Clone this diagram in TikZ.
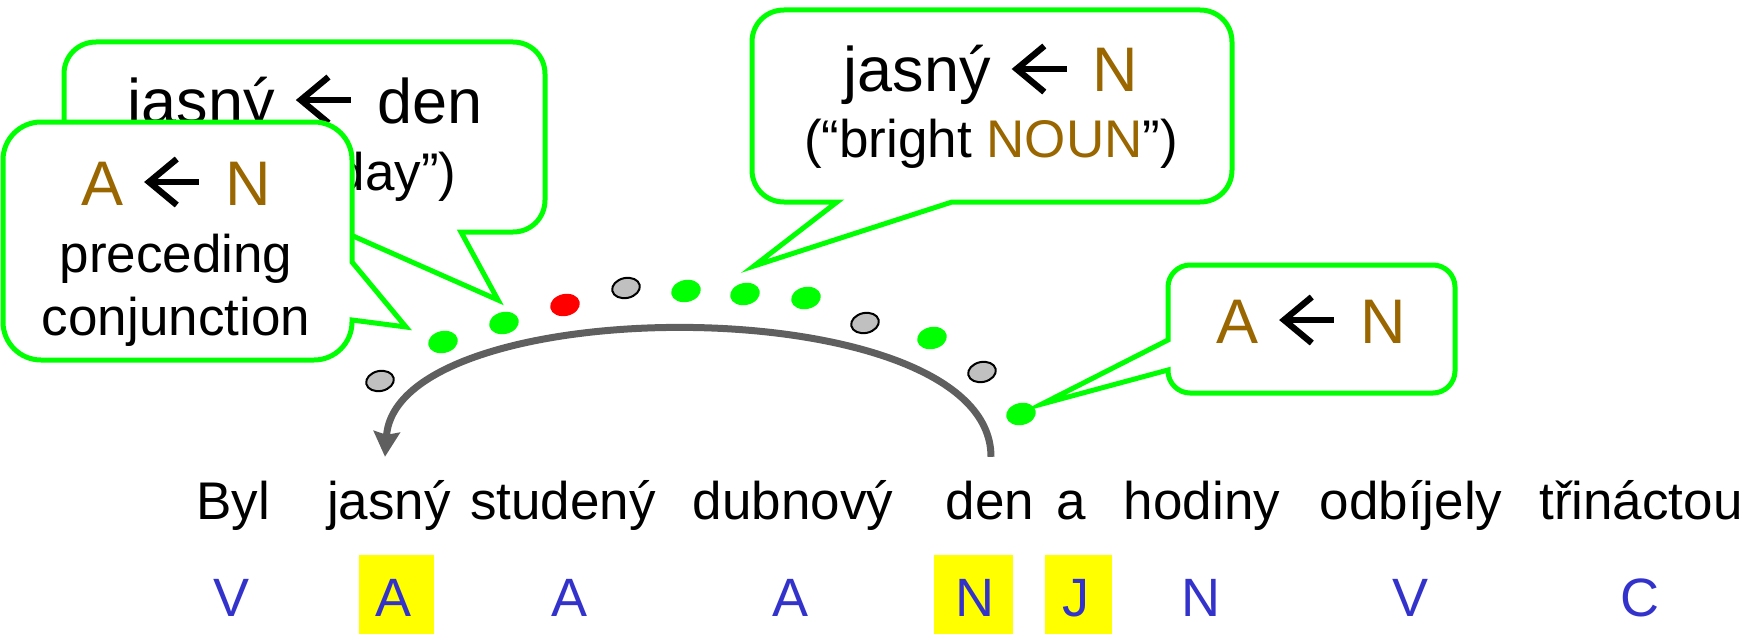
\documentclass[tikz,border=0pt]{standalone}
\usepackage{fontspec}
\setmainfont{Liberation Sans}
\usetikzlibrary{arrows.meta,shapes.geometric}

\definecolor{cgreen}{HTML}{00FF00}
\definecolor{posbrown}{HTML}{996600}
\definecolor{tagblue}{HTML}{3333CC}
\definecolor{arcgray}{HTML}{5F5F5F}
\definecolor{dotgray}{HTML}{C0C0C0}
\definecolor{dotred}{HTML}{FF0000}
\definecolor{hlyellow}{HTML}{FFFF00}

\newcommand{\pos}[1]{\textcolor{posbrown}{#1}}
% a wide, thin left arrow sized to the current font
\newcommand{\larr}{\kern0.36em\tikz[baseline=0pt]{%
  \draw[black, line width=0.1em, line cap=butt, line join=miter]
    (0.47em,0.73em) -- (0.03em,0.365em) -- (0.47em,0em);
  \draw[black, line width=0.1em, line cap=butt] (0.06em,0.365em) -- (0.83em,0.365em);}%
  \kern0.36em}

\begin{document}
\begin{tikzpicture}[x=1pt,y=-1pt,
  callout/.style={draw=cgreen, line width=5pt, fill=white},
  bigtxt/.style={anchor=base, inner sep=0pt, font=\fontsize{63}{70}\selectfont},
  midtxt/.style={anchor=base, inner sep=0pt, font=\fontsize{53}{60}\selectfont},
  word/.style={anchor=base, inner sep=0pt, text height=40pt, text depth=12pt,
    font=\fontsize{53}{60}\selectfont},
  tag/.style={anchor=base, inner sep=0pt, text=tagblue, font=\fontsize{54}{60}\selectfont},
  hlbox/.style={fill=hlyellow},
  dotbase/.style={ellipse, inner sep=0pt, rotate=12},
  dotg/.style={dotbase, fill=cgreen, minimum width=30pt, minimum height=22pt},
  dotr/.style={dotbase, fill=dotred, minimum width=30pt, minimum height=22pt},
  dotn/.style={dotbase, fill=dotgray, draw=black, line width=2pt,
    minimum width=28pt, minimum height=20pt},
  arcline/.style={draw=arcgray, line width=7pt,
    -{Stealth[length=25pt, width=26pt, inset=3pt]}},
]
\useasboundingbox (0,0) rectangle (1759,634);

% ---- callout: jasny <- den (behind) ----
\path[callout] (461,232) -- (513,232) .. controls (531,232) and (545,218) .. (545,200)
  -- (545,74) .. controls (545,56) and (531,42) .. (513,42)
  -- (96,42) .. controls (78,42) and (64,56) .. (64,74)
  -- (64,200) .. controls (64,218) and (78,232) .. (96,232)
  -- (344,232) -- (498,300) -- cycle;
\node[bigtxt] (c1a) at (305,123) {jasný\larr den};
\node[midtxt] (c1b) at (305,190) {(“bright day”)};

% ---- callout: A <- N, preceding conjunction (front) ----
\path[callout] (352,320) -- (352,322) .. controls (352,343) and (335,360) .. (314,360)
  -- (41,360) .. controls (20,360) and (3,343) .. (3,322)
  -- (3,160) .. controls (3,139) and (20,122) .. (41,122)
  -- (314,122) .. controls (335,122) and (352,139) .. (352,160)
  -- (352,262) -- (406,327) -- cycle;
\node[bigtxt] (c2a) at (176,205) {\pos{A}\larr\pos{N}};
\node[midtxt] (c2b) at (176,272) {preceding};
\node[midtxt] (c2c) at (176,335) {conjunction};

% ---- callout: jasny <- N ----
\path[callout] (952,202) -- (1200,202) .. controls (1218,202) and (1232,188) .. (1232,170)
  -- (1232,42) .. controls (1232,24) and (1218,10) .. (1200,10)
  -- (784,10) .. controls (766,10) and (752,24) .. (752,42)
  -- (752,170) .. controls (752,188) and (766,202) .. (784,202)
  -- (837,202) -- (754,266) -- cycle;
\node[bigtxt] (c3a) at (991,92) {jasný\larr\pos{N}};
\node[midtxt] (c3b) at (991,157) {(“bright \pos{NOUN}”)};

% ---- callout: A <- N (right) ----
\path[callout] (1168,340) -- (1168,287) .. controls (1168,275) and (1178,265) .. (1190,265)
  -- (1433,265) .. controls (1445,265) and (1455,275) .. (1455,287)
  -- (1455,371) .. controls (1455,383) and (1445,393) .. (1433,393)
  -- (1190,393) .. controls (1178,393) and (1168,383) .. (1168,371)
  -- (1168,370) -- (1042,404) -- cycle;
\node[bigtxt] (c4) at (1311,343) {\pos{A}\larr\pos{N}};

% ---- feature dots ----
\node[dotn] (d1)  at (380,381) {};
\node[dotg] (d2)  at (443,342) {};
\node[dotg] (d3)  at (504,323) {};
\node[dotr] (d4)  at (565,305) {};
\node[dotn] (d5)  at (626,288) {};
\node[dotg] (d6)  at (686,291) {};
\node[dotg] (d7)  at (745,294) {};
\node[dotg] (d8)  at (806,298) {};
\node[dotn] (d9)  at (865,323) {};
\node[dotg] (d10) at (932,338) {};
\node[dotn] (d11) at (982,372) {};
\node[dotg] (d12) at (1021,414) {};

% ---- sentence ----
\node[word] (byl)       at (233,519)  {Byl};
\node[word] (jasny)     at (389,519)  {jasný};
\node[word] (studeny)   at (563,519)  {studený};
\node[word] (dubnovy)   at (793,519)  {dubnový};
\node[word] (den)       at (990,519)  {den};
\node[word] (a)         at (1071,519) {a};
\node[word] (hodiny)    at (1202,519) {hodiny};
\node[word] (odbijely)  at (1411,519) {odbíjely};
\node[word] (trinactou) at (1641,519) {třináctou};

% ---- dependency arc ----
\draw[arcline] ([xshift=1pt,yshift=22pt]den.north) .. controls +(0,-170) and +(12,-168)
  .. ([xshift=-4pt,yshift=22pt]jasny.north);

% ---- part-of-speech tags ----
\fill[hlbox] (359,555) rectangle (434,634);
\fill[hlbox] (934,555) rectangle (1013,634);
\fill[hlbox] (1045,555) rectangle (1112,634);
\node[tag] (t1) at (232,616)  {V};
\node[tag] (t2) at (394,616)  {A};
\node[tag] (t3) at (570,616)  {A};
\node[tag] (t4) at (790,616)  {A};
\node[tag] (t5) at (975,616)  {N};
\node[tag] (t6) at (1076,616) {J};
\node[tag] (t7) at (1201,616) {N};
\node[tag] (t8) at (1410,616) {V};
\node[tag] (t9) at (1640,616) {C};
\end{tikzpicture}
\end{document}
